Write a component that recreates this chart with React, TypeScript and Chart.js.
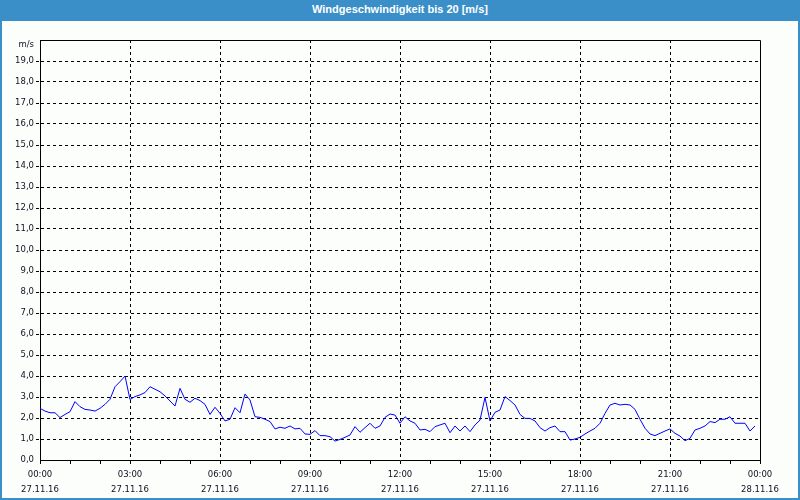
import React, { useEffect, useRef } from "react";
import { Chart, registerables } from "chart.js";

Chart.register(...registerables);

const TITLE = "Windgeschwindigkeit bis 20 [m/s]";
const UNIT = "m/s";
const DATE_DAY1 = "27.11.16";
const DATE_DAY2 = "28.11.16";
const Y_MIN = 0;
const Y_MAX = 20;

// wind speed, one value every 10 minutes from 00:00 to 23:50
const windSpeed = [
  2.46, 2.33, 2.25, 2.25, 2.02, 2.17, 2.3, 2.78, 2.54, 2.41, 2.38, 2.33,
  2.46, 2.65, 2.89, 3.49, 3.73, 4.0, 2.88, 3.02, 3.1, 3.21, 3.49, 3.37,
  3.25, 3.05, 2.81, 2.57, 3.41, 2.89, 2.75, 2.94, 2.83, 2.65, 2.17, 2.51,
  2.22, 1.86, 1.94, 2.49, 2.25, 3.14, 2.86, 2.06, 2.03, 1.94, 1.83, 1.48,
  1.56, 1.51, 1.62, 1.48, 1.51, 1.24, 1.22, 1.4, 1.16, 1.16, 1.11, 0.9,
  0.98, 1.08, 1.19, 1.59, 1.32, 1.54, 1.75, 1.51, 1.62, 2.03, 2.19, 2.14,
  1.75, 2.06, 1.86, 1.75, 1.43, 1.46, 1.35, 1.59, 1.67, 1.75, 1.3, 1.62,
  1.38, 1.62, 1.35, 1.67, 1.9, 2.98, 1.86, 2.27, 2.38, 3.02, 2.83, 2.62,
  2.17, 1.98, 1.98, 1.86, 1.54, 1.38, 1.54, 1.62, 1.35, 1.35, 0.95, 1.0,
  1.08, 1.24, 1.38, 1.51, 1.75, 2.22, 2.62, 2.7, 2.62, 2.65, 2.62, 2.41,
  1.94, 1.51, 1.24, 1.16, 1.27, 1.38, 1.48, 1.27, 1.14, 0.92, 1.03, 1.43,
  1.51, 1.62, 1.83, 1.78, 1.94, 1.94, 2.06, 1.75, 1.75, 1.75, 1.38, 1.62,
];

// time categories: 10-minute slots of the day plus the closing 00:00 of the next day
const timeLabels: string[] = [];
for (let h = 0; h < 24; h++) {
  for (let m = 0; m < 60; m += 10) {
    timeLabels.push(String(h).padStart(2, "0") + ":" + String(m).padStart(2, "0"));
  }
}
timeLabels.push("00:00");

const BLUE_FRAME = "#3b8fc8";
const TEXT = "#101020";
const FONT = "'DejaVu Sans', sans-serif";
const TICK_SIZE = 8.5;

const framePlugin = {
  id: "frame",
  afterDraw(chart: any) {
    const { ctx, chartArea } = chart;
    ctx.save();
    ctx.strokeStyle = "#000";
    ctx.lineWidth = 1;
    ctx.beginPath();
    ctx.moveTo(Math.round(chartArea.left) + 0.5, Math.round(chartArea.top) + 0.5);
    ctx.lineTo(Math.round(chartArea.right) + 0.5, Math.round(chartArea.top) + 0.5);
    ctx.lineTo(Math.round(chartArea.right) + 0.5, Math.round(chartArea.bottom) + 0.5);
    ctx.stroke();
    ctx.fillStyle = TEXT;
    ctx.font = TICK_SIZE + "px " + FONT;
    ctx.textAlign = "right";
    ctx.textBaseline = "middle";
    ctx.fillText(UNIT, chartArea.left - 6, chartArea.top + 5);
    ctx.restore();
  },
};

export default function App() {
  const ref = useRef<HTMLCanvasElement>(null);

  useEffect(() => {
    document.body.style.margin = "0";
    const canvas = ref.current;
    if (!canvas) return;
    const last = timeLabels.length - 1;
    const chart = new Chart(canvas, {
      type: "line",
      data: {
        labels: timeLabels,
        datasets: [
          {
            data: windSpeed,
            borderColor: "#0000ff",
            borderWidth: 1,
            pointRadius: 0,
            tension: 0,
            fill: false,
          },
        ],
      },
      options: {
        animation: false,
        responsive: false,
        maintainAspectRatio: false,
        layout: { padding: { top: 19, right: 38, left: 0, bottom: 0 } },
        plugins: {
          legend: { display: false },
          tooltip: { enabled: false },
          title: { display: false },
        },
        scales: {
          x: {
            type: "category",
            offset: false,
            afterFit: (s: any) => {
              s.height = 38;
            },
            border: { display: true, color: "#000", width: 1, dash: [3, 3] },
            grid: {
              drawOnChartArea: true,
              offset: false,
              color: (c: any) =>
                c.index % 18 === 0 && c.index !== 0 && c.index !== last ? "#000" : "rgba(0,0,0,0)",
              tickColor: (c: any) => (c.index % 6 === 0 ? "#000" : "rgba(0,0,0,0)"),
              tickBorderDash: [],
              tickLength: 4,
              lineWidth: 1,
            },
            ticks: {
              autoSkip: false,
              maxRotation: 0,
              minRotation: 0,
              padding: 3,
              color: TEXT,
              font: { family: FONT, size: TICK_SIZE, lineHeight: "15px" },
              callback: (_v: any, i: number) =>
                i % 18 === 0 ? [timeLabels[i], i === last ? DATE_DAY2 : DATE_DAY1] : "",
            },
          },
          y: {
            type: "linear",
            min: Y_MIN,
            max: Y_MAX,
            afterFit: (s: any) => {
              s.width = 38;
            },
            border: { display: true, color: "#000", width: 1, dash: [3, 3] },
            grid: {
              color: (c: any) =>
                c.tick && (c.tick.value === Y_MIN || c.tick.value === Y_MAX) ? "rgba(0,0,0,0)" : "#000",
              tickColor: (c: any) =>
                c.tick && (c.tick.value === Y_MIN || c.tick.value === Y_MAX) ? "rgba(0,0,0,0)" : "#000",
              tickBorderDash: [3, 3],
              tickLength: 4,
              lineWidth: 1,
            },
            ticks: {
              stepSize: 1,
              padding: 2,
              color: TEXT,
              font: { family: FONT, size: TICK_SIZE },
              callback: (v: any) => (v === Y_MAX ? "" : Number(v).toFixed(1).replace(".", ",")),
            },
          },
        },
      },
      plugins: [framePlugin],
    });
    return () => chart.destroy();
  }, []);

  return (
    <div
      style={{
        position: "absolute",
        left: 0,
        top: 0,
        width: 800,
        height: 500,
        boxSizing: "border-box",
        borderLeft: `2px solid ${BLUE_FRAME}`,
        borderRight: `2px solid ${BLUE_FRAME}`,
        borderBottom: `2px solid ${BLUE_FRAME}`,
        background: "#fcfefc",
        overflow: "hidden",
      }}
    >
      <div
        style={{
          height: 21,
          margin: "0 -2px",
          background: BLUE_FRAME,
          color: "#fff",
          font: `bold 11px 'Liberation Sans', Arial, sans-serif`,
          lineHeight: "19px",
          textAlign: "center",
        }}
      >
        {TITLE}
      </div>
      <canvas ref={ref} width={796} height={477} style={{ display: "block" }} />
    </div>
  );
}
